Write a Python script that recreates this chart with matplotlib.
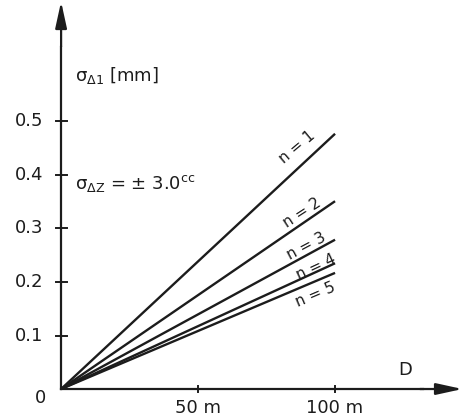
import numpy as np
import matplotlib
matplotlib.use("Agg")
import matplotlib.pyplot as plt

# data
n_values = [1, 2, 3, 4, 5]
D_end = 100.0
sigma_at_100 = [0.477, 0.351, 0.279, 0.235, 0.217]
y_ticks = [0.1, 0.2, 0.3, 0.4, 0.5]
y_tick_labels = ["0.1", "0.2", "0.3", "0.4", "0.5"]
x_ticks = [50, 100]
x_tick_labels = ["50 m", "100 m"]

ink = "#1c1c1c"
fig = plt.figure(figsize=(4.66, 4.17), dpi=100)
ax = fig.add_axes([0, 0, 1, 1])
ax.set_xlim(-22.3, 147.8)
ax.set_ylim(-0.0523, 0.727)
ax.axis("off")

# axes with arrows
ax.plot([0, 132], [0, 0], color=ink, lw=1.6)
ax.annotate("", xy=(146.5, 0), xytext=(131, 0),
            arrowprops=dict(arrowstyle="-|>,head_length=1.6,head_width=0.35",
                            color=ink, lw=1.6, shrinkA=0, shrinkB=0))
ax.plot([0, 0], [0, 0.64], color=ink, lw=1.6)
ax.annotate("", xy=(0, 0.724), xytext=(0, 0.64),
            arrowprops=dict(arrowstyle="-|>,head_length=1.6,head_width=0.35",
                            color=ink, lw=1.6, shrinkA=0, shrinkB=0))

# ticks
for yt, lab in zip(y_ticks, y_tick_labels):
    ax.plot([-2.0, 2.0], [yt, yt], color=ink, lw=1.4)
    ax.text(-6.5, yt, lab, ha="right", va="center", fontsize=13, color=ink)
for xt, lab in zip(x_ticks, x_tick_labels):
    ax.plot([xt, xt], [-0.006, 0.006], color=ink, lw=1.4)
    ax.text(xt, -0.035, lab, ha="center", va="center", fontsize=13, color=ink)
ax.text(-5.5, -0.017, "0", ha="right", va="center", fontsize=13, color=ink)
ax.text(125.5, 0.035, "D", ha="center", va="center", fontsize=13, color=ink)

ax.text(5, 0.585, r"$\mathregular{\sigma_{\Delta 1}}$ [mm]", ha="left", va="center",
        fontsize=13, color=ink)
ax.text(5, 0.385, r"$\mathregular{\sigma_{\Delta Z}}$ = $\mathregular{\pm}$ 3.0$\mathregular{^{cc}}$",
        ha="left", va="center", fontsize=13, color=ink)

# lines
label_pos = [(86, 0.452), (88, 0.330), (89.5, 0.266), (93, 0.227), (93, 0.176)]
label_rot = [40, 33, 28, 25, 23]
for n, s, (lx, ly), rot in zip(n_values, sigma_at_100, label_pos, label_rot):
    ax.plot([0, D_end], [0, s], color=ink, lw=1.7, solid_capstyle="butt")
    ax.text(lx, ly, f"n = {n}", ha="center", va="center", rotation=rot,
            fontsize=11, color=ink)

fig.savefig("out.png", dpi=100)
